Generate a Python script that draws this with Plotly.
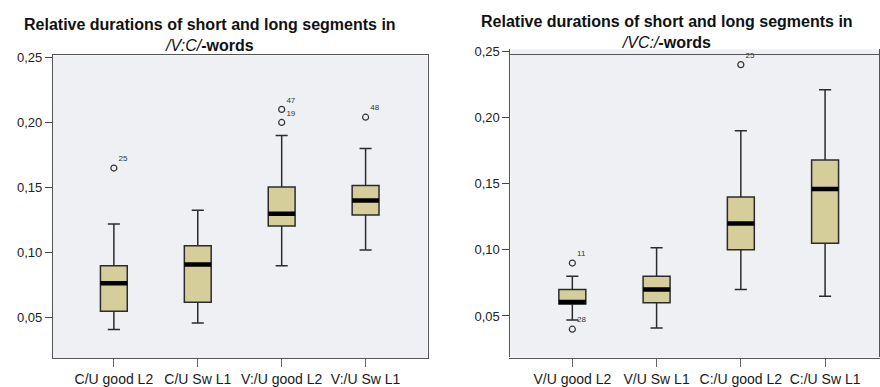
import plotly.graph_objects as go

# Category labels
cats_left = ["C/U good L2", "C/U Sw L1", "V:/U good L2", "V:/U Sw L1"]
cats_right = ["V/U good L2", "V/U Sw L1", "C:/U good L2", "C:/U Sw L1"]

# Box statistics: /V:C/-words
lo_left = [0.041, 0.046, 0.090, 0.102]
q1_left = [0.055, 0.062, 0.1205, 0.129]
med_left = [0.0765, 0.091, 0.130, 0.140]
q3_left = [0.090, 0.1053, 0.1505, 0.1515]
hi_left = [0.122, 0.1326, 0.190, 0.180]

# Box statistics: /VC:/-words
lo_right = [0.047, 0.041, 0.070, 0.065]
q1_right = [0.059, 0.060, 0.100, 0.105]
med_right = [0.0605, 0.070, 0.120, 0.146]
q3_right = [0.070, 0.080, 0.140, 0.168]
hi_right = [0.080, 0.1015, 0.190, 0.221]

# Outliers (category index, value, case label)
out_left_idx = [0, 2, 2, 3]
out_left_val = [0.165, 0.210, 0.200, 0.204]
out_left_lab = ["25", "47", "19", "48"]

out_right_idx = [0, 0, 2]
out_right_val = [0.090, 0.040, 0.240]
out_right_lab = ["11", "28", "25"]

y_ticks = [0.05, 0.10, 0.15, 0.20, 0.25]

BOX_W = 0.32
FILL = "#d5ce9a"
EDGE = "#2b2b2b"
PLOT_BG = "#eef0f4"
FONT = "Liberation Sans, Arial, sans-serif"

fig = go.Figure()


def add_panel(xref, yref, lo, q1, med, q3, hi, oi, ov, ol):
    pos = list(range(len(med)))
    fig.add_trace(go.Box(
        x=pos, q1=q1, median=med, q3=q3, lowerfence=lo, upperfence=hi,
        width=BOX_W, whiskerwidth=0.45, fillcolor=FILL,
        line=dict(color=EDGE, width=1.5), boxpoints=False,
        xaxis=xref, yaxis=yref, showlegend=False, hoverinfo="skip",
    ))
    # thick median bars
    mx, my = [], []
    for p, m in zip(pos, med):
        mx += [p - BOX_W / 2, p + BOX_W / 2, None]
        my += [m, m, None]
    fig.add_trace(go.Scatter(
        x=mx, y=my, mode="lines", line=dict(color="black", width=4.5),
        xaxis=xref, yaxis=yref, showlegend=False, hoverinfo="skip",
    ))
    # outliers with case numbers
    fig.add_trace(go.Scatter(
        x=oi, y=ov, mode="markers+text", text=ol,
        textposition="top right",
        textfont=dict(size=8, color="#333", family=FONT),
        marker=dict(symbol="circle-open", size=6, color="#333",
                    line=dict(width=1.2)),
        xaxis=xref, yaxis=yref, showlegend=False, hoverinfo="skip",
    ))


add_panel("x", "y", lo_left, q1_left, med_left, q3_left, hi_left,
          out_left_idx, out_left_val, out_left_lab)
add_panel("x2", "y2", lo_right, q1_right, med_right, q3_right, hi_right,
          out_right_idx, out_right_val, out_right_lab)

common_y = dict(
    tickvals=y_ticks, tickformat=".2f", ticks="outside", ticklen=7,
    tickcolor="#444", tickfont=dict(size=13, color="#222", family=FONT),
    showgrid=False, zeroline=False, showline=True, linecolor="#555",
    linewidth=1, mirror=True,
)
common_x = dict(
    tickmode="array", ticks="outside", ticklen=8, tickcolor="#666",
    tickfont=dict(size=14, color="#1a1a1a", family=FONT),
    showgrid=False, zeroline=False, showline=True, linecolor="#555",
    linewidth=1, mirror=True,
)

fig.update_layout(
    width=880, height=387,
    margin=dict(l=0, r=0, t=0, b=0),
    paper_bgcolor="white",
    separators=",.",
    xaxis=dict(domain=[53 / 880, 428 / 880], range=[-0.726, 3.738],
               tickvals=list(range(4)), ticktext=cats_left, **common_x),
    yaxis=dict(domain=[29 / 387, 336 / 387], range=[0.0189, 0.2515],
               anchor="x", **common_y),
    xaxis2=dict(domain=[511 / 880, 1.0], range=[-0.735, 3.64],
                tickvals=list(range(4)), ticktext=cats_right, **common_x),
    yaxis2=dict(domain=[30 / 387, 342 / 387], range=[0.0187, 0.2515],
                anchor="x2", **common_y),
    plot_bgcolor=PLOT_BG,
)

# Panel titles (two lines each)
titles = [
    (210, 30, "<b>Relative durations of short and long segments in</b><br>"
              "<i>/V:C/</i><b>-words</b>"),
    (668, 27, "<b>Relative durations of short and long segments in</b><br>"
              "<i>/VC:/</i><b>-words</b>"),
]
for px, py, txt in titles:
    fig.add_annotation(
        x=px / 880, y=1 - py / 387, xref="paper", yref="paper",
        text=txt, showarrow=False, xanchor="center", yanchor="middle",
        align="center",
        font=dict(size=16, color="#111", family=FONT),
    )

fig.write_html("out.html")
